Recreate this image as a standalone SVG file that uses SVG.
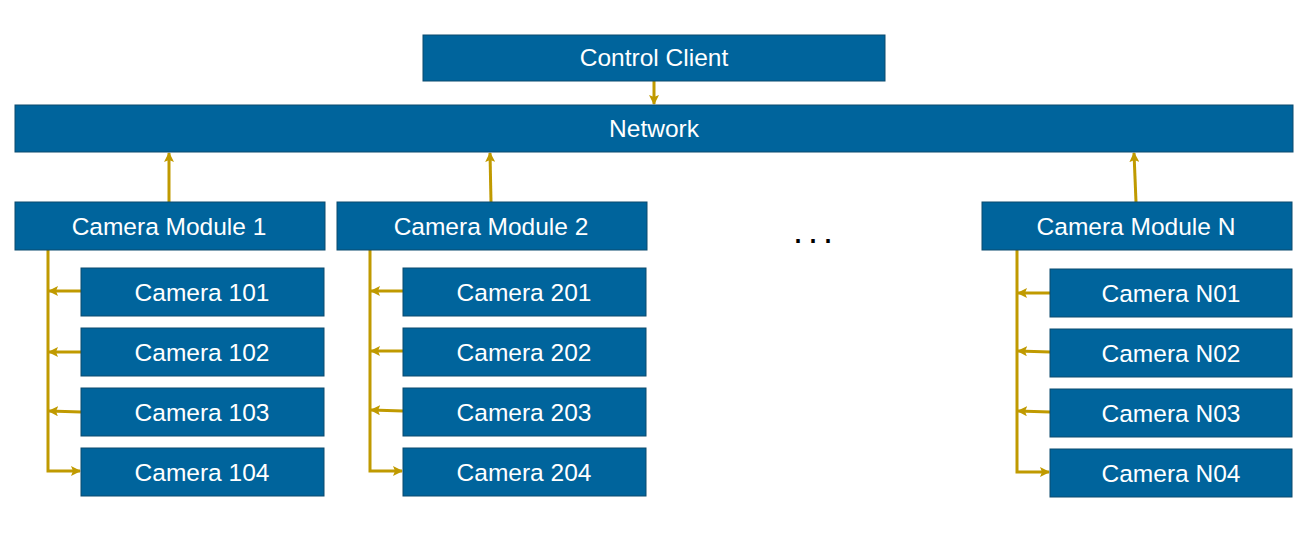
<svg xmlns="http://www.w3.org/2000/svg" width="1307" height="537" viewBox="0 0 1307 537">
<style>
.box{fill:#00649c;stroke:#0b4a6e;stroke-width:1}
.lbl{fill:#ffffff;font-family:"Liberation Sans",Arial,sans-serif;font-size:24.5px;text-anchor:middle}
.con{stroke:#c09a00;stroke-width:3;fill:none}
</style>
<defs>
<marker id="ah" viewBox="0 0 10 10" refX="9" refY="5" markerWidth="10" markerHeight="10" markerUnits="userSpaceOnUse" orient="auto">
<path d="M0,0 L10,5 L0,10 L2,5 z" fill="#c09a00"/>
</marker>
</defs>
<rect width="1307" height="537" fill="#ffffff"/>
<g id="connectors">
<line class="con" x1="654" y1="80" x2="654" y2="104" marker-end="url(#ah)"/>
<line class="con" x1="169" y1="202" x2="169" y2="153" marker-end="url(#ah)"/>
<line class="con" x1="491" y1="202" x2="490" y2="153" marker-end="url(#ah)"/>
<line class="con" x1="1136" y1="202" x2="1134" y2="153" marker-end="url(#ah)"/>
<path class="con" d="M48,250 V471 H80" marker-end="url(#ah)"/>
<line class="con" x1="81" y1="291" x2="49" y2="291" marker-end="url(#ah)"/>
<line class="con" x1="81" y1="352" x2="49" y2="352" marker-end="url(#ah)"/>
<line class="con" x1="81" y1="412" x2="49" y2="411" marker-end="url(#ah)"/>
<path class="con" d="M370,250 V471 H402" marker-end="url(#ah)"/>
<line class="con" x1="403" y1="291" x2="371" y2="291" marker-end="url(#ah)"/>
<line class="con" x1="403" y1="351" x2="371" y2="351" marker-end="url(#ah)"/>
<line class="con" x1="403" y1="411" x2="371" y2="410" marker-end="url(#ah)"/>
<path class="con" d="M1017,250 V472 H1049" marker-end="url(#ah)"/>
<line class="con" x1="1050" y1="293" x2="1018" y2="293" marker-end="url(#ah)"/>
<line class="con" x1="1050" y1="352" x2="1018" y2="351" marker-end="url(#ah)"/>
<line class="con" x1="1050" y1="412" x2="1018" y2="411" marker-end="url(#ah)"/>
</g>
<g id="control-client"><rect class="box" x="423" y="35" width="462" height="46"/><text class="lbl" x="654" y="66">Control Client</text></g>
<g id="network"><rect class="box" x="15" y="105" width="1278" height="47"/><text class="lbl" x="654" y="137">Network</text></g>
<g id="module-1"><rect class="box" x="15" y="202" width="310" height="48"/><text class="lbl" x="169" y="235">Camera Module 1</text></g>
<g id="module-2"><rect class="box" x="337" y="202" width="310" height="48"/><text class="lbl" x="491" y="235">Camera Module 2</text></g>
<g id="module-n"><rect class="box" x="982" y="202" width="310" height="48"/><text class="lbl" x="1136" y="235">Camera Module N</text></g>
<g id="ellipsis"><text x="793" y="243" font-family="Liberation Sans,Arial,sans-serif" font-size="36" letter-spacing="5" fill="#000000">...</text></g>
<g id="cam-101"><rect class="box" x="81" y="268" width="243" height="48"/><text class="lbl" x="202" y="301">Camera 101</text></g>
<g id="cam-102"><rect class="box" x="81" y="328" width="243" height="48"/><text class="lbl" x="202" y="361">Camera 102</text></g>
<g id="cam-103"><rect class="box" x="81" y="388" width="243" height="48"/><text class="lbl" x="202" y="421">Camera 103</text></g>
<g id="cam-104"><rect class="box" x="81" y="448" width="243" height="48"/><text class="lbl" x="202" y="481">Camera 104</text></g>
<g id="cam-201"><rect class="box" x="403" y="268" width="243" height="48"/><text class="lbl" x="524" y="301">Camera 201</text></g>
<g id="cam-202"><rect class="box" x="403" y="328" width="243" height="48"/><text class="lbl" x="524" y="361">Camera 202</text></g>
<g id="cam-203"><rect class="box" x="403" y="388" width="243" height="48"/><text class="lbl" x="524" y="421">Camera 203</text></g>
<g id="cam-204"><rect class="box" x="403" y="448" width="243" height="48"/><text class="lbl" x="524" y="481">Camera 204</text></g>
<g id="cam-n01"><rect class="box" x="1050" y="269" width="242" height="48"/><text class="lbl" x="1171" y="302">Camera N01</text></g>
<g id="cam-n02"><rect class="box" x="1050" y="329" width="242" height="48"/><text class="lbl" x="1171" y="362">Camera N02</text></g>
<g id="cam-n03"><rect class="box" x="1050" y="389" width="242" height="48"/><text class="lbl" x="1171" y="422">Camera N03</text></g>
<g id="cam-n04"><rect class="box" x="1050" y="449" width="242" height="48"/><text class="lbl" x="1171" y="482">Camera N04</text></g>
</svg>
